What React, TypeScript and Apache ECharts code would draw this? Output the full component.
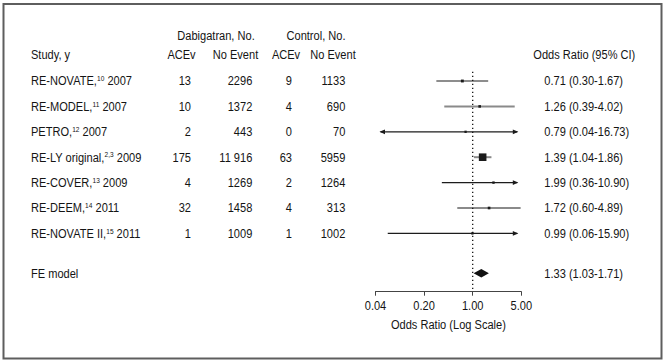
import React, { useEffect, useRef } from 'react';
import * as echarts from 'echarts';

// ---------- data ----------
const studies = ['RE-NOVATE', 'RE-MODEL', 'PETRO', 'RE-LY original', 'RE-COVER', 'RE-DEEM', 'RE-NOVATE II'];
const refs = ['10', '11', '12', '2,3', '13', '14', '15'];
const years = [2007, 2007, 2007, 2009, 2009, 2011, 2011];
const dabAce = [13, 10, 2, 175, 4, 32, 1];
const dabNoEvent = [2296, 1372, 443, 11916, 1269, 1458, 1009];
const ctlAce = [9, 4, 0, 63, 2, 4, 1];
const ctlNoEvent = [1133, 690, 70, 5959, 1264, 313, 1002];
const oddsRatio = [0.71, 1.26, 0.79, 1.39, 1.99, 1.72, 0.99];
const ciLow = [0.30, 0.39, 0.04, 1.04, 0.36, 0.60, 0.06];
const ciHigh = [1.67, 4.02, 16.73, 1.86, 10.90, 4.89, 15.90];
const weightPct = [8.8, 4.8, 0.7, 76.8, 2.2, 5.9, 0.8];
const feModel = { label: 'FE model', or: 1.33, lo: 1.03, hi: 1.71 };
const xTicks = [0.04, 0.2, 1, 5];
const xAxisTitle = 'Odds Ratio (Log Scale)';

// ---------- layout / style ----------
const FONT = "'Liberation Sans', Arial, sans-serif";
const FS = 13.5;
const SX = 0.82;
const TXT = '#141414';
const AXIS_MIN = 0.04;
const AXIS_MAX = 5;
const Y_MAX = 9.295;
const ROW_POS = [1, 2, 3, 4, 5, 6, 7];
const FE_POS = 8.57;
const HEAD1 = -0.8;
const HEAD2 = -0.05;
const lineColors = ['#1c1c1c', '#8a8a8a', '#1c1c1c', '#8a8a8a', '#1c1c1c', '#8a8a8a', '#1c1c1c'];
const lineWidths = [1.2, 2, 1.2, 2, 1.2, 2, 1.2];
const COL = {
  study: 31,
  dabAce: 191,
  dabNo: 252.3,
  ctlAce: 292,
  ctlNo: 345.3,
  ci: 544.3,
  ciHead: 635.3,
  dabHead: 216,
  ctlHead: 316,
  dabAceHead: 181.5,
  dabNoHead: 235.5,
  ctlAceHead: 286,
  ctlNoHead: 333,
};

const fmtInt = (n: number) => {
  const s = String(n);
  return n >= 10000 ? s.slice(0, s.length - 3) + ' ' + s.slice(s.length - 3) : s;
};
const fmtCI = (o: number, l: number, h: number) => `${o.toFixed(2)} (${l.toFixed(2)}-${h.toFixed(2)})`;

const txt = (x: number, y: number, text: string, align: string) => ({
  type: 'text',
  x,
  y,
  scaleX: SX,
  style: { text, fill: TXT, fontSize: FS, fontFamily: FONT, align, verticalAlign: 'middle' },
});

export default function App() {
  const ref = useRef<HTMLDivElement>(null);

  useEffect(() => {
    document.body.style.margin = '0';
    const chart = echarts.init(ref.current!, null, { renderer: 'svg' });

    const wMin = Math.min(...weightPct);
    const wMax = Math.max(...weightPct);

    const option: any = {
      animation: false,
      backgroundColor: '#ffffff',
      grid: [
        { left: 375.5, width: 145.8, top: 55.6, height: 236.1, outerBoundsMode: 'none' },
        { left: 0, width: 665, top: 30.2, height: 261.5, outerBoundsMode: 'none' },
      ],
      xAxis: [
        {
          type: 'log',
          logBase: 5,
          min: AXIS_MIN,
          max: AXIS_MAX,
          gridIndex: 0,
          position: 'bottom',
          axisLine: { show: true, onZero: false, lineStyle: { color: '#444', width: 1 } },
          axisTick: { show: true, length: 4, lineStyle: { color: '#444', width: 1 } },
          axisLabel: { show: false },
          splitLine: { show: false },
          minorTick: { show: false },
        },
        { type: 'value', min: 0, max: 665, gridIndex: 1, show: false },
      ],
      yAxis: [
        { type: 'value', min: 0, max: Y_MAX, inverse: true, gridIndex: 0, show: false },
        { type: 'value', min: -1, max: Y_MAX, inverse: true, gridIndex: 1, show: false },
      ],
      graphic: [
        {
          type: 'rect',
          shape: { x: 3.5, y: 4, width: 658, height: 354.5 },
          style: { fill: 'none', stroke: '#5e5e5e', lineWidth: 2 },
          silent: true,
        },
      ],
      series: [
        // reference line at OR = 1
        {
          type: 'line',
          xAxisIndex: 0,
          yAxisIndex: 0,
          data: [
            [1, 0.634],
            [1, 9.23],
          ],
          symbol: 'none',
          lineStyle: { color: '#111', width: 1.3, type: [1.3, 2.7] },
          silent: true,
        },
        // study CIs and squares
        {
          type: 'custom',
          xAxisIndex: 0,
          yAxisIndex: 0,
          clip: false,
          silent: true,
          data: studies.map((_, i) => [oddsRatio[i], ROW_POS[i], ciLow[i], ciHigh[i], weightPct[i]]),
          renderItem: (params: any, api: any) => {
            const i = params.dataIndex;
            const row = api.value(1);
            const o = api.value(0);
            const lo = api.value(2);
            const hi = api.value(3);
            const w = api.value(4);
            const y = api.coord([1, row])[1];
            const xMinPx = api.coord([AXIS_MIN, row])[0];
            const xMaxPx = api.coord([AXIS_MAX, row])[0];
            const leftArrow = lo <= AXIS_MIN;
            const rightArrow = hi >= AXIS_MAX;
            const xl = leftArrow ? xMinPx + 5 : api.coord([lo, row])[0];
            const xr = rightArrow ? xMaxPx - 4 : api.coord([hi, row])[0];
            const xo = api.coord([o, row])[0];
            const s = 2.3 + ((w - wMin) / (wMax - wMin)) * 5.3;
            const children: any[] = [
              {
                type: 'line',
                shape: { x1: xl, y1: y, x2: xr, y2: y },
                style: { stroke: lineColors[i], lineWidth: lineWidths[i] },
              },
              {
                type: 'rect',
                shape: { x: xo - s / 2, y: y - s / 2, width: s, height: s },
                style: { fill: '#1a1a1a' },
              },
            ];
            if (leftArrow) {
              children.push({
                type: 'polygon',
                shape: { points: [[xl - 1, y], [xl + 4.5, y - 2.4], [xl + 4.5, y + 2.4]] },
                style: { fill: '#1a1a1a' },
              });
            }
            if (rightArrow) {
              children.push({
                type: 'polygon',
                shape: { points: [[xr + 1, y], [xr - 4.5, y - 2.4], [xr - 4.5, y + 2.4]] },
                style: { fill: '#1a1a1a' },
              });
            }
            return { type: 'group', children };
          },
        },
        // fixed-effect diamond
        {
          type: 'custom',
          xAxisIndex: 0,
          yAxisIndex: 0,
          clip: false,
          silent: true,
          data: [[feModel.or, FE_POS, feModel.lo, feModel.hi]],
          renderItem: (params: any, api: any) => {
            const row = api.value(1);
            const pO = api.coord([api.value(0), row]);
            const pL = api.coord([api.value(2), row]);
            const pH = api.coord([api.value(3), row]);
            const y = pO[1];
            return {
              type: 'polygon',
              shape: { points: [[pL[0], y], [pO[0], y - 4.3], [pH[0], y], [pO[0], y + 4.3]] },
              style: { fill: '#111' },
            };
          },
        },
        // x-axis tick labels and title, placed by the log axis
        {
          type: 'custom',
          xAxisIndex: 0,
          yAxisIndex: 0,
          clip: false,
          silent: true,
          data: xTicks.map((t) => [t, Y_MAX]),
          renderItem: (params: any, api: any) => {
            const p = api.coord([api.value(0), api.value(1)]);
            const children: any[] = [txt(p[0], p[1] + 13.5, api.value(0).toFixed(2), 'center')];
            if (params.dataIndex === 0) {
              const a = api.coord([AXIS_MIN, Y_MAX]);
              const b = api.coord([AXIS_MAX, Y_MAX]);
              children.push(txt((a[0] + b[0]) / 2, a[1] + 32.6, xAxisTitle, 'center'));
            }
            return { type: 'group', children };
          },
        },
        // table text
        {
          type: 'custom',
          xAxisIndex: 1,
          yAxisIndex: 1,
          clip: false,
          silent: true,
          data: studies.map((_, i) => [0, ROW_POS[i]]),
          renderItem: (params: any, api: any) => {
            const i = params.dataIndex;
            const row = api.value(1);
            const y = api.coord([0, row])[1];
            const X = (c: number) => api.coord([c, row])[0];
            return {
              type: 'group',
              children: [
                {
                  type: 'text',
                  x: X(COL.study),
                  y,
                  scaleX: SX,
                  style: {
                    text: `{n|${studies[i]},}{s|${refs[i]}}{n| ${years[i]}}`,
                    fill: TXT,
                    fontSize: FS,
                    fontFamily: FONT,
                    align: 'left',
                    verticalAlign: 'middle',
                    rich: {
                      n: { fontSize: FS, fontFamily: FONT, fill: TXT, lineHeight: 15, verticalAlign: 'middle' },
                      s: { fontSize: 8, fontFamily: FONT, fill: TXT, lineHeight: 8, verticalAlign: 'top', padding: [1, 0, 0, 0] },
                    },
                  },
                },
                txt(X(COL.dabAce), y, String(dabAce[i]), 'right'),
                txt(X(COL.dabNo), y, fmtInt(dabNoEvent[i]), 'right'),
                txt(X(COL.ctlAce), y, String(ctlAce[i]), 'right'),
                txt(X(COL.ctlNo), y, fmtInt(ctlNoEvent[i]), 'right'),
                txt(X(COL.ci), y, fmtCI(oddsRatio[i], ciLow[i], ciHigh[i]), 'left'),
              ],
            };
          },
        },
        // headers and FE row text
        {
          type: 'custom',
          xAxisIndex: 1,
          yAxisIndex: 1,
          clip: false,
          silent: true,
          data: [[0, HEAD1]],
          renderItem: (params: any, api: any) => {
            const X = (c: number) => api.coord([c, 0])[0];
            const Y = (r: number) => api.coord([0, r])[1];
            const y1 = Y(HEAD1);
            const y2 = Y(HEAD2);
            const yf = Y(FE_POS);
            return {
              type: 'group',
              children: [
                txt(X(COL.dabHead), y1, 'Dabigatran, No.', 'center'),
                txt(X(COL.ctlHead), y1, 'Control, No.', 'center'),
                txt(X(COL.study), y2, 'Study, y', 'left'),
                txt(X(COL.dabAceHead), y2, 'ACEv', 'center'),
                txt(X(COL.dabNoHead), y2, 'No Event', 'center'),
                txt(X(COL.ctlAceHead), y2, 'ACEv', 'center'),
                txt(X(COL.ctlNoHead), y2, 'No Event', 'center'),
                txt(X(COL.ciHead), y2, 'Odds Ratio (95% CI)', 'right'),
                txt(X(COL.study), yf, feModel.label, 'left'),
                txt(X(COL.ci), yf, fmtCI(feModel.or, feModel.lo, feModel.hi), 'left'),
              ],
            };
          },
        },
      ],
    };

    chart.setOption(option);
    return () => chart.dispose();
  }, []);

  return <div ref={ref} style={{ position: 'absolute', left: 0, top: 0, width: 665, height: 363 }} />;
}
